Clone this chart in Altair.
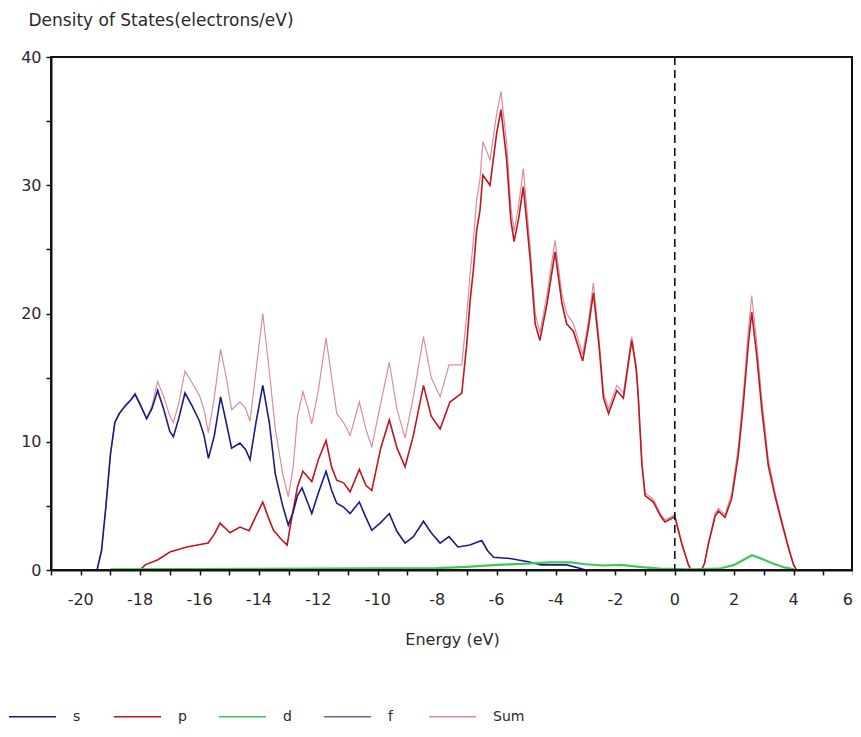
import altair as alt
import pandas as pd

# ---- data ----
sum_E = [-21, -19.45, -19.3, -19.15, -19.0, -18.85, -18.7, -18.5, -18.3, -18.17, -18.0, -17.78, -17.6, -17.41,
         -17.2, -17.0, -16.88, -16.7, -16.49, -16.25, -16.0, -15.85, -15.7, -15.5, -15.29, -15.1, -14.92,
         -14.64, -14.45, -14.3, -14.1, -13.87, -13.65, -13.45, -13.2, -13.01, -12.85, -12.7, -12.52, -12.35,
         -12.22, -12.0, -11.74, -11.55, -11.38, -11.15, -10.93, -10.62, -10.4, -10.2, -9.9, -9.61, -9.35,
         -9.08, -8.8, -8.46, -8.2, -7.9, -7.6, -7.17, -7.0, -6.89, -6.78, -6.67, -6.56, -6.46, -6.22, -6.0,
         -5.85, -5.66, -5.52, -5.41, -5.25, -5.1, -4.87, -4.7, -4.54, -4.3, -4.03, -3.8, -3.64, -3.41, -3.1,
         -2.9, -2.74, -2.55, -2.4, -2.23, -1.95, -1.73, -1.45, -1.3, -1.23, -1.11, -1.0, -0.72, -0.49, -0.33,
         0.0, 0.24, 0.46, 0.55, 0.9, 1.0, 1.13, 1.36, 1.47, 1.69, 1.92, 2.14, 2.31, 2.48, 2.59, 2.76, 2.93,
         3.15, 3.38, 3.6, 3.83, 4.0, 4.1, 6.0]
sum_V = [0, 0, 1.5, 5, 9, 11.5, 12.2, 12.8, 13.3, 13.8, 13.0, 11.8, 12.8, 14.7,
         13.5, 12.0, 11.5, 13.0, 15.5, 14.6, 13.6, 12.5, 10.7, 13.5, 17.2, 15.0, 12.5,
         13.1, 12.6, 11.6, 15.5, 20.0, 15.5, 11.0, 7.5, 5.7, 8.0, 12.0, 13.9, 12.6,
         11.4, 14.0, 18.1, 15.0, 12.2, 11.5, 10.5, 13.1, 11.0, 9.6, 13.0, 16.2, 12.5,
         10.3, 13.5, 18.2, 15.0, 13.5, 16.0, 16.0, 20.0, 23.1, 25.7, 28.9, 30.4, 33.4, 32.0, 35.5,
         37.3, 33.3, 28.3, 26.4, 28.5, 31.3, 25.2, 20.0, 18.5, 21.5, 25.7, 21.5, 20.0, 19.2, 16.8,
         19.5, 22.4, 18.0, 13.8, 12.6, 14.4, 13.8, 18.2, 16.0, 13.8, 8.6, 6.0, 5.5, 4.4, 3.9,
         4.3, 2.1, 0.4, 0, 0, 0.5, 2.1, 4.4, 4.8, 4.3, 6.0, 9.6, 13.8, 18.7, 21.4, 17.7, 13.3,
         8.6, 6.0, 3.9, 1.8, 0.4, 0, 0]

p_E = [-18.0, -17.83, -17.4, -17.0, -16.43, -15.71, -15.5, -15.31, -14.97, -14.64, -14.33, -14.1, -13.87,
       -13.7, -13.51, -13.25, -13.05, -12.9, -12.7, -12.52, -12.22, -12.0, -11.74, -11.55, -11.38, -11.15,
       -10.93, -10.62, -10.4, -10.2, -9.9, -9.61, -9.35, -9.08, -8.8, -8.46, -8.2, -7.9, -7.57, -7.17, -7.0,
       -6.89, -6.78, -6.67, -6.56, -6.46, -6.22, -6.0, -5.85, -5.66, -5.52, -5.41, -5.25, -5.1, -4.87, -4.7,
       -4.54, -4.3, -4.03, -3.8, -3.64, -3.41, -3.1, -2.9, -2.74, -2.55, -2.4, -2.23, -1.95, -1.73, -1.45,
       -1.3, -1.23, -1.11, -1.0, -0.72, -0.49, -0.33, 0.0, 0.24, 0.46, 0.55, 0.9, 1.0, 1.13, 1.36, 1.47,
       1.69, 1.92, 2.14, 2.31, 2.48, 2.59, 2.76, 2.93, 3.15, 3.38, 3.6, 3.83, 4.0, 4.1]
p_V = [0, 0.4, 0.8, 1.4, 1.8, 2.1, 2.8, 3.65, 2.9, 3.35, 3.07, 4.2, 5.3,
       4.2, 3.1, 2.4, 1.95, 4.0, 6.5, 7.7, 6.9, 8.6, 10.1, 8.0, 7.0, 6.8,
       6.1, 7.85, 6.6, 6.2, 9.5, 11.7, 9.5, 8.05, 10.5, 14.4, 12.0, 11.0, 13.1, 13.8, 17.7,
       21.0, 23.4, 26.5, 28.0, 30.8, 30.0, 34.0, 35.9, 32.0, 27.3, 25.6, 27.5, 29.9, 24.3, 19.2,
       17.9, 20.8, 24.8, 20.8, 19.2, 18.6, 16.3, 19.0, 21.6, 17.5, 13.4, 12.2, 14.0, 13.4, 17.9,
       15.7, 13.5, 8.3, 5.8, 5.3, 4.25, 3.75, 4.15, 2.0, 0.4, 0, 0, 0.5, 2.0, 4.2, 4.6,
       4.1, 5.6, 9.0, 13.0, 17.7, 20.1, 16.7, 12.5, 8.1, 5.7, 3.7, 1.7, 0.4, 0]

s_E = [-19.45, -19.3, -19.15, -19.0, -18.85, -18.7, -18.5, -18.3, -18.17, -18.0, -17.78, -17.6, -17.41,
       -17.2, -17.0, -16.88, -16.7, -16.49, -16.25, -16.0, -15.85, -15.7, -15.5, -15.29, -15.1, -14.92,
       -14.64, -14.45, -14.3, -14.1, -13.87, -13.65, -13.45, -13.2, -13.01, -12.85, -12.7, -12.55, -12.35,
       -12.22, -12.0, -11.74, -11.55, -11.38, -11.15, -10.93, -10.62, -10.4, -10.2, -9.9, -9.61, -9.35,
       -9.08, -8.8, -8.46, -8.2, -7.9, -7.6, -7.3, -6.9, -6.5, -6.3, -6.1, -5.55, -4.93, -4.5, -3.64,
       -3.2, -3.0]
s_V = [0, 1.5, 5, 9, 11.5, 12.2, 12.8, 13.3, 13.7, 12.9, 11.8, 12.6, 14.0,
       12.5, 10.8, 10.4, 11.8, 13.8, 12.8, 11.6, 10.5, 8.7, 10.5, 13.5, 11.5, 9.5,
       9.9, 9.4, 8.6, 11.5, 14.4, 11.5, 7.5, 5.0, 3.5, 4.5, 5.8, 6.4, 5.2,
       4.4, 6.0, 7.7, 6.2, 5.2, 4.9, 4.4, 5.3, 4.1, 3.1, 3.7, 4.4, 3.0,
       2.1, 2.6, 3.8, 2.9, 2.1, 2.6, 1.8, 1.95, 2.3, 1.5, 1.0, 0.9, 0.65, 0.4, 0.4,
       0.13, 0]

d_E = [-19.0, -8.0, -7.0, -6.0, -5.0, -4.2, -3.5, -3.0, -2.4, -1.8, -1.2, -0.5, 0.5, 1.5, 2.0, 2.4, 2.6,
       2.9, 3.3, 3.7, 4.0]
d_V = [0.05, 0.15, 0.25, 0.4, 0.5, 0.6, 0.6, 0.45, 0.35, 0.4, 0.25, 0.1, 0.05, 0.1, 0.4, 0.9, 1.15,
       0.9, 0.5, 0.2, 0.05]

f_E = [-19.0, 4.0]
f_V = [0, 0]

series_names = ["s", "p", "d", "f", "Sum"]
series_colors = ["#1c1c80", "#c0161e", "#3cc85a", "#64648f", "#d98e9c"]
x_ticks = list(range(-21, 7))
x_label_values = [-20, -18, -16, -14, -12, -10, -8, -6, -4, -2, 0, 2, 4]
x_label_texts = ["-20", "-18", "-16", "-14", "-12", "-10", "-8", "-6", "-4", "-2", "0", "2", "4"]
x_last_value = [6]
x_last_text = ["6"]
y_ticks = list(range(0, 41, 5))

rows = []
for name, E, V in [("Sum", sum_E, sum_V), ("p", p_E, p_V), ("s", s_E, s_V),
                   ("f", f_E, f_V), ("d", d_E, d_V)]:
    for e, v in zip(E, V):
        rows.append({"series": name, "E": e, "V": v})
df = pd.DataFrame(rows)

FONT = "DejaVu Sans"
TXT = "#2a2a2a"

xscale = alt.Scale(domain=[-21, 6], nice=False, zero=False)
xenc = alt.X("E:Q", scale=xscale,
             axis=alt.Axis(values=x_ticks, labels=False,
                           title="Energy (eV)", titleFontWeight="normal", titleFontSize=16,
                           titleFont=FONT, titlePadding=56, titleColor=TXT,
                           tickSize=5, tickColor="#111", tickWidth=1.5,
                           domainColor="#111", domainWidth=2, grid=False))
yenc = alt.Y("V:Q", scale=alt.Scale(domain=[0, 40], nice=False),
             axis=alt.Axis(values=y_ticks,
                           labelExpr="datum.value % 10 == 0 ? datum.label : ''",
                           labelOverlap=False,
                           title="Density of States(electrons/eV)", titleAngle=0,
                           titleAlign="left", titleBaseline="middle", titleX=-23, titleY=-37,
                           titleFontWeight="normal", titleFontSize=17, titleFont=FONT, titleColor=TXT,
                           labelFont=FONT, labelFontSize=16, labelColor=TXT,
                           labelPadding=5, tickSize=5, tickColor="#111", tickWidth=1.5,
                           domainColor="#111", domainWidth=2, grid=False))
color = alt.Color("series:N",
                  scale=alt.Scale(domain=series_names, range=series_colors),
                  legend=alt.Legend(title=None, orient="none", direction="horizontal",
                                    legendX=-43, legendY=635, columns=5, gridAlign="all",
                                    symbolType="stroke", symbolSize=2209, symbolStrokeWidth=1.5,
                                    labelFont=FONT, labelFontSize=14, labelColor=TXT,
                                    labelOffset=16, columnPadding=6))

base = alt.Chart(df)
widths = {"Sum": 1.2, "p": 1.6, "s": 1.6, "f": 1.2, "d": 2.2}
layers = []
for name in ["Sum", "p", "s", "f", "d"]:
    layers.append(base.transform_filter(alt.datum.series == name)
                  .mark_line(strokeWidth=widths[name], interpolate="linear")
                  .encode(x=xenc, y=yenc, color=color))

zero_line = alt.Chart(pd.DataFrame({"E": [0]})).mark_rule(
    color="#111", strokeDash=[8, 5], strokeWidth=1.6).encode(x=xenc)

# labelled tick values drawn as text along the bottom of the plot
xlab = alt.Chart(pd.DataFrame({"E": x_label_values, "lab": x_label_texts})).mark_text(
    font=FONT, fontSize=16, color=TXT, baseline="middle", dy=30).encode(
    x=xenc, y=alt.value(513), text=alt.Text("lab:N"))
xlab_last = alt.Chart(pd.DataFrame({"E": x_last_value, "lab": x_last_text})).mark_text(
    font=FONT, fontSize=16, color=TXT, baseline="middle", align="right", dy=30, dx=0).encode(
    x=xenc, y=alt.value(513), text=alt.Text("lab:N"))

frame = alt.Chart(pd.DataFrame({"k": [0]})).mark_rect(
    fill=None, stroke="#111", strokeWidth=2).encode(
    x=alt.value(0), x2=alt.value(801), y=alt.value(0), y2=alt.value(513))

chart = alt.layer(*layers, zero_line, xlab, xlab_last, frame).properties(
    width=802, height=513,
    autosize=alt.AutoSizeParams(type="none"),
    padding={"left": 43, "top": 49, "right": 0, "bottom": 159},
).configure_view(strokeWidth=0).configure(background="white")

chart.save("out.html", embed_options={"renderer": "svg", "actions": False})
